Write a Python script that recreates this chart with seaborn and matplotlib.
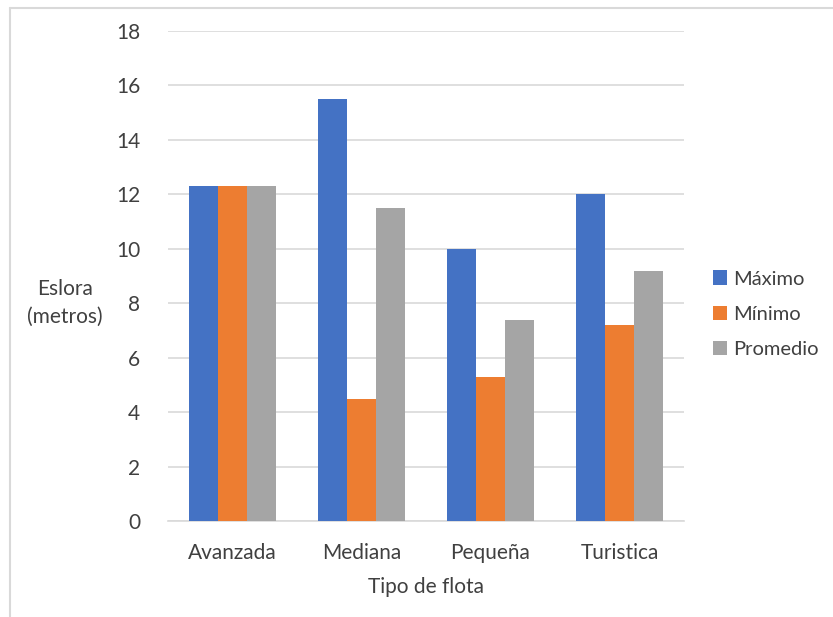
import matplotlib
matplotlib.use("Agg")
import matplotlib.pyplot as plt
from matplotlib.lines import Line2D
import seaborn as sns
import pandas as pd

categorias = ["Avanzada", "Mediana", "Pequeña", "Turistica"]
maximo = [12.3, 15.5, 10.0, 12.0]
minimo = [12.3, 4.5, 5.3, 7.2]
promedio = [12.3, 11.5, 7.4, 9.2]
series = ["Máximo", "Mínimo", "Promedio"]
colores = ["#4472C4", "#ED7D31", "#A5A5A5"]
yticks = [0, 2, 4, 6, 8, 10, 12, 14, 16, 18]

sns.set_theme(style="white")
plt.rcParams["font.family"] = ["Lato", "DejaVu Sans"]
texto = "#404040"
fs = 15

df = pd.DataFrame({
    "Tipo de flota": categorias * 3,
    "Eslora": maximo + minimo + promedio,
    "Serie": [s for s in series for _ in categorias],
})

fig = plt.figure(figsize=(8.33, 6.17), dpi=100)
ax = fig.add_axes([168 / 833, 1 - 521 / 617, 516 / 833, 490 / 617])

sns.barplot(data=df, x="Tipo de flota", y="Eslora", hue="Serie",
            palette=colores, width=0.667, saturation=1, ax=ax,
            errorbar=None, linewidth=0, zorder=3)

ax.set_ylim(0, 18)
ax.set_yticks(yticks)
ax.set_xlim(-0.5, 3.5)
ax.yaxis.grid(True, color="#D9D9D9", linewidth=1.2, zorder=0)
ax.set_axisbelow(True)
for s in ["top", "right", "left"]:
    ax.spines[s].set_visible(False)
ax.spines["bottom"].set_color("#D9D9D9")
ax.spines["bottom"].set_linewidth(1.2)
ax.tick_params(axis="both", length=0, labelsize=fs, colors=texto)
ax.tick_params(axis="y", pad=20)
ax.tick_params(axis="x", pad=16)

ax.set_xlabel("Tipo de flota", fontsize=fs, color=texto, labelpad=10)
ax.set_ylabel("Eslora\n(metros)", fontsize=fs, color=texto, rotation=0,
              ha="center", va="center", linespacing=1.5)
ax.yaxis.set_label_coords(-0.2, 0.445)

leg = ax.legend(loc="center left", bbox_to_anchor=(1.056, 0.422), frameon=False,
                fontsize=14.5, handlelength=0.7, handleheight=0.7,
                handletextpad=0.3, labelspacing=0.9, labelcolor=texto,
                borderpad=0, borderaxespad=0)

# marco exterior del gráfico
fig.add_artist(Line2D([10 / 833, 10 / 833], [0, 1 - 8 / 617],
                      transform=fig.transFigure, color="#D9D9D9", linewidth=1.5))
fig.add_artist(Line2D([10 / 833, 1], [1 - 8 / 617, 1 - 8 / 617],
                      transform=fig.transFigure, color="#D9D9D9", linewidth=1.5))

fig.savefig("out.png", dpi=100, facecolor="white")
